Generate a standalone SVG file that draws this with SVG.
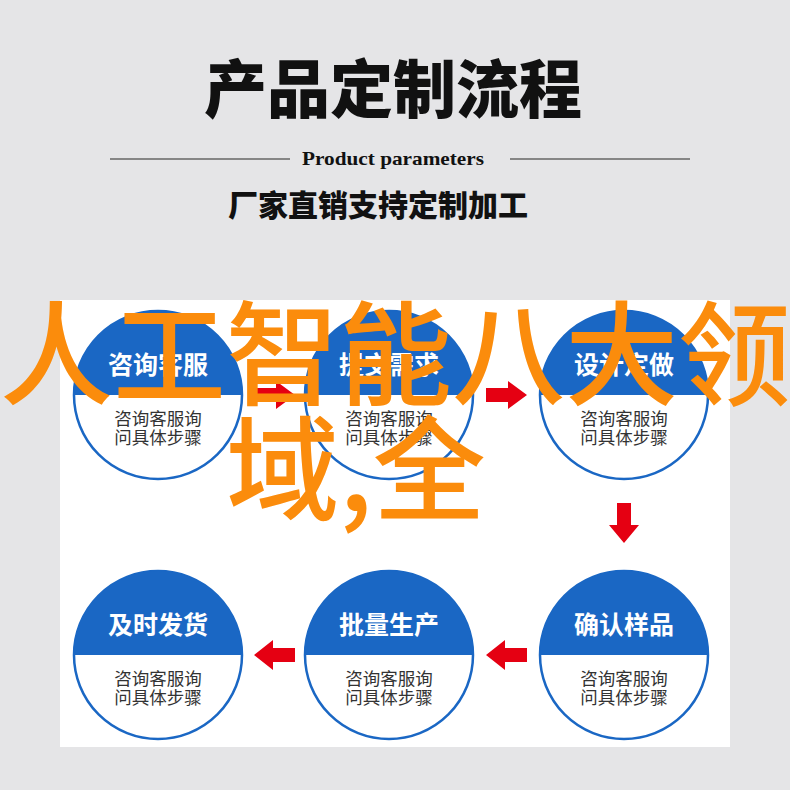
<svg xmlns="http://www.w3.org/2000/svg" width="790" height="790" viewBox="0 0 790 790">
<style>
.ring{fill:#fff;stroke:#1a67c4;stroke-width:2.5}
.cap{fill:#1a67c4}
.ttl{font-family:"Noto Sans CJK SC",sans-serif;font-weight:700;font-size:25px;fill:#fff;text-anchor:middle}
.sub{font-family:"Noto Sans CJK SC",sans-serif;font-weight:400;font-size:17.5px;fill:#333;text-anchor:middle}
.arr{fill:#e50012}
.big{font-family:"Noto Sans CJK SC",sans-serif;font-weight:500;font-size:113px;fill:#fb8c0c}
</style>
<rect x="0" y="0" width="790" height="790" fill="#e5e5e7"/>
<g id="header">
<text x="393" y="112" font-family="Noto Sans CJK SC,sans-serif" font-weight="900" font-size="63" text-anchor="middle" fill="#111">产品定制流程</text>
<line x1="110" y1="159" x2="290" y2="159" stroke="#666" stroke-width="1.5"/>
<line x1="510" y1="159" x2="690" y2="159" stroke="#666" stroke-width="1.5"/>
<text x="393" y="165" font-family="Liberation Serif,serif" font-weight="700" font-size="19" text-anchor="middle" fill="#111" textLength="182" lengthAdjust="spacingAndGlyphs">Product parameters</text>
<text x="378" y="216" font-family="Noto Sans CJK SC,sans-serif" font-weight="900" font-size="30" text-anchor="middle" fill="#111">厂家直销支持定制加工</text>
</g>
<rect x="60" y="300" width="670" height="447" fill="#fff"/>
<g id="connectors">
<polygon class="arr" points="254,388 276,388 276,381 295,395 276,409 276,402 254,402"/>
<polygon class="arr" points="486,388 508,388 508,381 527,395 508,409 508,402 486,402"/>
<polygon class="arr" points="617,503 631,503 631,525 639,525 624,543 609,525 617,525"/>
<polygon class="arr" points="527,648 505,648 505,640 486,655 505,670 505,662 527,662"/>
<polygon class="arr" points="295,648 273,648 273,640 254,655 273,670 273,662 295,662"/>
</g>
<g id="n1">
<circle class="ring" cx="158" cy="395" r="84"/>
<path class="cap" d="M74,395 A84,84 0 0 1 242,395 Z"/>
<text class="ttl" x="158" y="374">咨询客服</text>
<text class="sub" x="158" y="425">咨询客服询</text>
<text class="sub" x="158" y="444">问具体步骤</text>
</g>
<g id="n2">
<circle class="ring" cx="389" cy="395" r="84"/>
<path class="cap" d="M305,395 A84,84 0 0 1 473,395 Z"/>
<text class="ttl" x="389" y="374">提交需求</text>
<text class="sub" x="389" y="425">咨询客服询</text>
<text class="sub" x="389" y="444">问具体步骤</text>
</g>
<g id="n3">
<circle class="ring" cx="624" cy="395" r="84"/>
<path class="cap" d="M540,395 A84,84 0 0 1 708,395 Z"/>
<text class="ttl" x="624" y="374">设计定做</text>
<text class="sub" x="624" y="425">咨询客服询</text>
<text class="sub" x="624" y="444">问具体步骤</text>
</g>
<g id="n4">
<circle class="ring" cx="624" cy="655" r="84"/>
<path class="cap" d="M540,655 A84,84 0 0 1 708,655 Z"/>
<text class="ttl" x="624" y="634">确认样品</text>
<text class="sub" x="624" y="685">咨询客服询</text>
<text class="sub" x="624" y="704">问具体步骤</text>
</g>
<g id="n5">
<circle class="ring" cx="389" cy="655" r="84"/>
<path class="cap" d="M305,655 A84,84 0 0 1 473,655 Z"/>
<text class="ttl" x="389" y="634">批量生产</text>
<text class="sub" x="389" y="685">咨询客服询</text>
<text class="sub" x="389" y="704">问具体步骤</text>
</g>
<g id="n6">
<circle class="ring" cx="158" cy="655" r="84"/>
<path class="cap" d="M74,655 A84,84 0 0 1 242,655 Z"/>
<text class="ttl" x="158" y="634">及时发货</text>
<text class="sub" x="158" y="685">咨询客服询</text>
<text class="sub" x="158" y="704">问具体步骤</text>
</g>
<g id="overlay">
<text class="big" x="0" y="396">人工智能八大领</text>
<text class="big" x="226" y="511">域,全</text>
</g>
</svg>
